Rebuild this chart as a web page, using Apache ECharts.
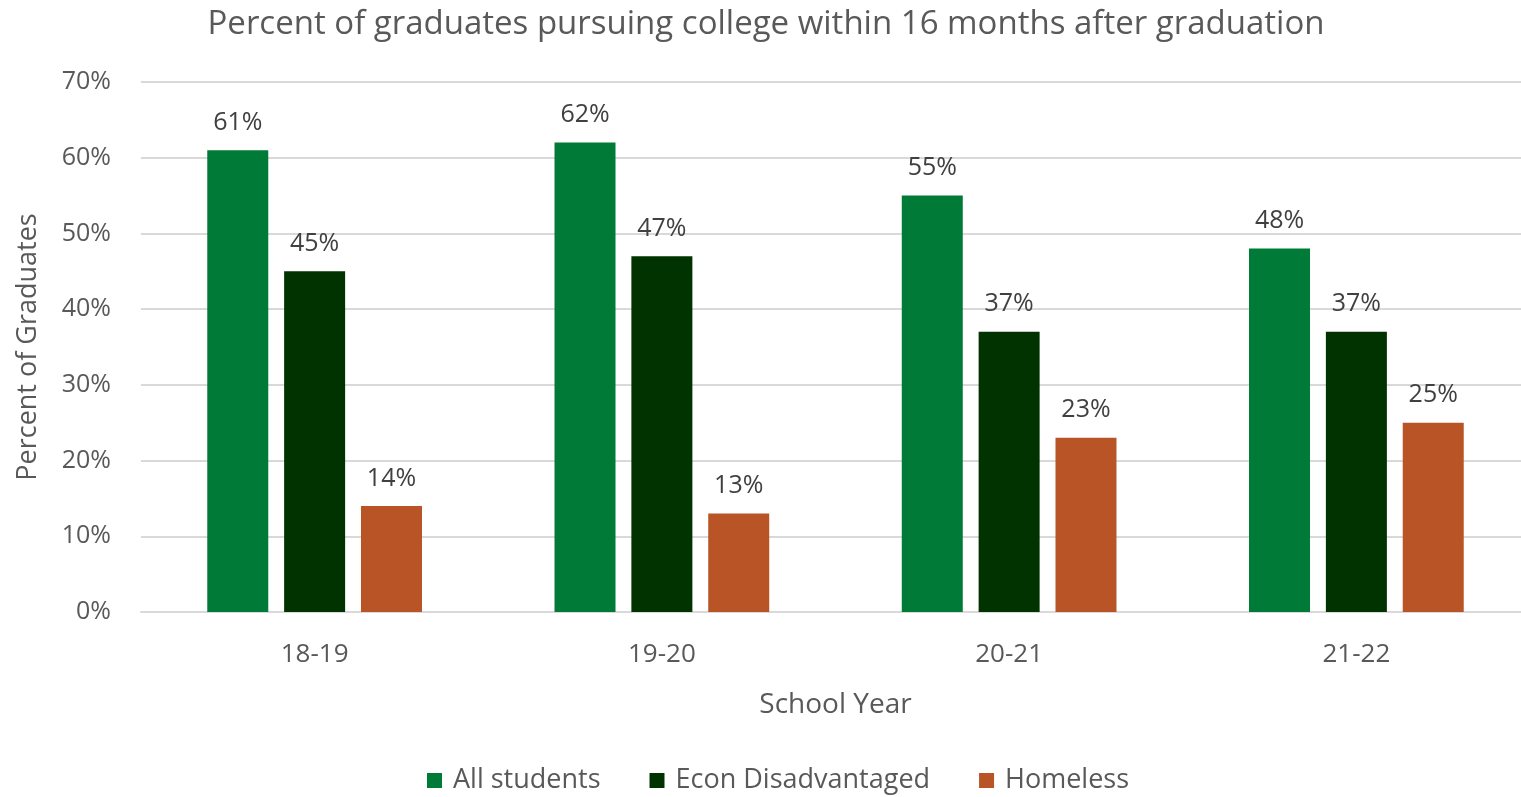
<!DOCTYPE html>
<html><head><meta charset="utf-8">
<script src="https://cdn.jsdelivr.net/npm/echarts@6/dist/echarts.min.js"></script>
<style>html,body{margin:0;padding:0;background:#fff;overflow:hidden}#c{width:1532px;height:797px}</style>
</head><body><div id="c"></div>
<script>
const categories = ['18-19', '19-20', '20-21', '21-22'];
const allStudents = [61, 62, 55, 48];
const econDisadvantaged = [45, 47, 37, 37];
const homeless = [14, 13, 23, 25];
const seriesNames = ['All students', 'Econ Disadvantaged', 'Homeless'];
const colors = ['#007A37', '#003300', '#B85426'];
const FONT = 'Open Sans';
const TXT = '#595959';
const chart = echarts.init(document.getElementById('c'));
const lbl = {show: true, position: 'top', distance: 15, formatter: '{c}%', color: '#404040', fontSize: 25, fontFamily: FONT};
chart.setOption({
  animation: false,
  textStyle: {fontFamily: FONT},
  title: {text: 'Percent of graduates pursuing college within 16 months after graduation', left: 'center', top: 3,
    textStyle: {fontSize: 33, fontWeight: 'normal', color: TXT, fontFamily: FONT}},
  legend: {bottom: -2, left: 422, itemWidth: 15, itemHeight: 15, itemGap: 49, icon: 'rect',
    textStyle: {fontSize: 27, color: TXT, fontFamily: FONT, padding: [0, 0, 0, 6]}, data: seriesNames},
  grid: {left: 141, right: 2, top: 82, bottom: 185, outerBoundsMode: 'none'},
  xAxis: {type: 'category', data: categories,
    axisLine: {show: true, lineStyle: {color: '#D9D9D9', width: 2}}, axisTick: {show: false},
    axisLabel: {fontSize: 26, color: TXT, margin: 30, fontFamily: FONT},
    name: 'School Year', nameLocation: 'middle', nameGap: 79,
    nameTextStyle: {fontSize: 28, color: TXT, fontFamily: FONT}},
  yAxis: {type: 'value', min: 0, max: 70, interval: 10,
    axisLabel: {formatter: '{value}%', fontSize: 25, color: TXT, margin: 30, fontFamily: FONT},
    splitLine: {lineStyle: {color: '#D9D9D9', width: 2}},
    axisLine: {show: false}, axisTick: {show: false},
    name: 'Percent of Graduates', nameLocation: 'middle', nameGap: 99, nameRotate: 90,
    nameTextStyle: {fontSize: 27, color: TXT, fontFamily: FONT}},
  series: [
    {name: seriesNames[0], type: 'bar', data: allStudents, barWidth: 61, barGap: '26%', itemStyle: {color: colors[0]}, label: lbl},
    {name: seriesNames[1], type: 'bar', data: econDisadvantaged, barWidth: 61, barGap: '26%', itemStyle: {color: colors[1]}, label: lbl},
    {name: seriesNames[2], type: 'bar', data: homeless, barWidth: 61, barGap: '26%', itemStyle: {color: colors[2]}, label: lbl}
  ]
});
</script></body></html>
